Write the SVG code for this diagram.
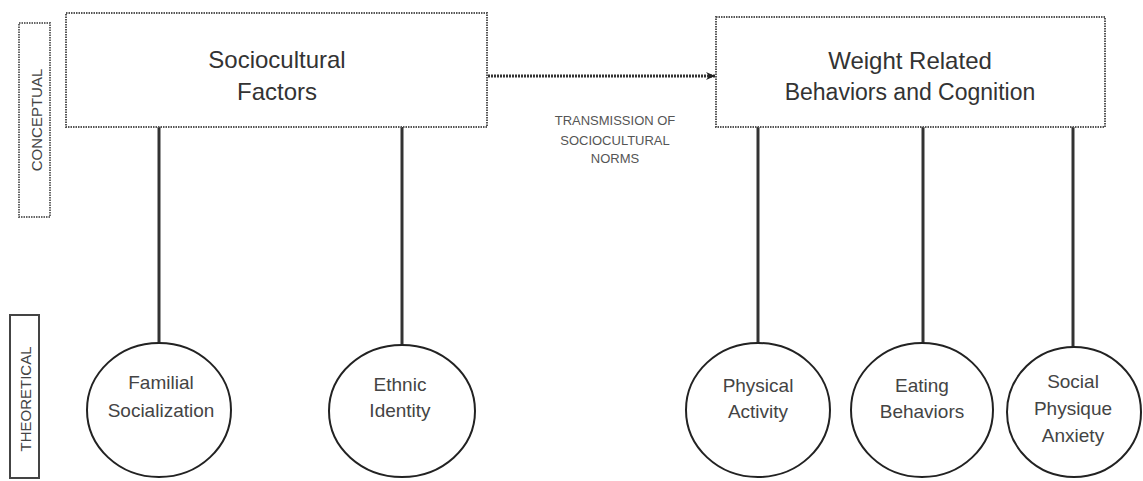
<svg xmlns="http://www.w3.org/2000/svg" width="1143" height="481" viewBox="0 0 1143 481">
<defs>
<style>
.box{fill:#fff;stroke:#555;stroke-width:2;stroke-dasharray:1.5 1}
.lbl{fill:none;stroke:#444;stroke-width:2}
.dlbl{fill:none;stroke:#666;stroke-width:2;stroke-dasharray:1.5 1}
.circ{fill:#fff;stroke:#222;stroke-width:2}
.stem{stroke:#333;stroke-width:3;fill:none}
.arrow{stroke:#333;stroke-width:3;stroke-dasharray:2 1;fill:none}
.big{font-family:"Liberation Sans",Arial,sans-serif;font-size:24px;fill:#333;text-anchor:middle}
.node{font-family:"Liberation Sans",Arial,sans-serif;font-size:19px;fill:#444;text-anchor:middle}
.side{font-family:"Liberation Sans",Arial,sans-serif;font-size:15px;fill:#444;text-anchor:middle}
.edge{font-family:"Liberation Sans",Arial,sans-serif;font-size:13px;fill:#555;text-anchor:middle}
</style>
<marker id="ah" markerWidth="11" markerHeight="10" refX="10" refY="5" orient="auto" markerUnits="userSpaceOnUse">
<path d="M1,1 L10,5 L1,9 L4,5 Z" fill="#222"/>
</marker>
</defs>
<rect width="1143" height="481" fill="#fff"/>

<g id="label-conceptual">
<rect class="dlbl" x="19" y="23" width="31" height="194"/>
<text class="side" transform="translate(41.5,120) rotate(-90)">CONCEPTUAL</text>
</g>
<g id="label-theoretical">
<rect class="lbl" x="10" y="315" width="29" height="163"/>
<text class="side" transform="translate(30.5,399) rotate(-90)">THEORETICAL</text>
</g>

<g id="connectors">
<line class="stem" x1="159" y1="127" x2="159" y2="343"/>
<line class="stem" x1="402" y1="127" x2="402" y2="346"/>
<line class="stem" x1="758" y1="127" x2="758" y2="343"/>
<line class="stem" x1="923" y1="127" x2="923" y2="343"/>
<line class="stem" x1="1073" y1="127" x2="1073" y2="347"/>
<line class="arrow" x1="488" y1="76" x2="715" y2="76" marker-end="url(#ah)"/>
<g id="edge-label">
<text class="edge" x="615" y="125">TRANSMISSION OF</text>
<text class="edge" x="615" y="145">SOCIOCULTURAL</text>
<text class="edge" x="615" y="163">NORMS</text>
</g>
</g>

<g id="sociocultural-factors">
<rect class="box" x="66" y="13" width="421" height="114"/>
<text class="big" x="277" y="68">Sociocultural</text>
<text class="big" x="277" y="100">Factors</text>
</g>
<g id="weight-related">
<rect class="box" x="716" y="17" width="389" height="110"/>
<text class="big" x="910" y="69">Weight Related</text>
<text class="big" x="910" y="100" style="font-size:23px">Behaviors and Cognition</text>
</g>

<g id="familial-socialization">
<ellipse class="circ" cx="159" cy="410" rx="72" ry="67"/>
<text class="node" x="161" y="389">Familial</text>
<text class="node" x="161" y="417">Socialization</text>
</g>
<g id="ethnic-identity">
<ellipse class="circ" cx="402" cy="411" rx="73" ry="66"/>
<text class="node" x="400" y="391">Ethnic</text>
<text class="node" x="400" y="417">Identity</text>
</g>
<g id="physical-activity">
<ellipse class="circ" cx="758" cy="410" rx="72" ry="67"/>
<text class="node" x="758" y="392">Physical</text>
<text class="node" x="758" y="418">Activity</text>
</g>
<g id="eating-behaviors">
<ellipse class="circ" cx="922" cy="410" rx="71" ry="67"/>
<text class="node" x="922" y="392">Eating</text>
<text class="node" x="922" y="418">Behaviors</text>
</g>
<g id="social-physique-anxiety">
<ellipse class="circ" cx="1074" cy="412" rx="67" ry="65"/>
<text class="node" x="1073" y="388">Social</text>
<text class="node" x="1073" y="415">Physique</text>
<text class="node" x="1073" y="442">Anxiety</text>
</g>
</svg>
